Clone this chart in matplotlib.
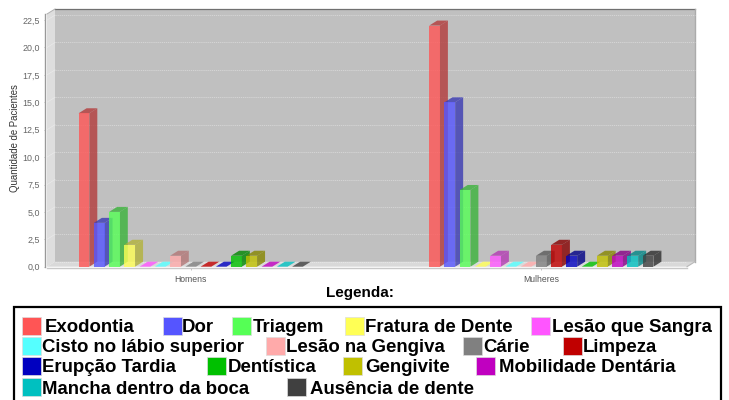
import matplotlib

matplotlib.use("Agg")
import matplotlib.pyplot as plt
from matplotlib.patches import Rectangle
from matplotlib.ticker import FuncFormatter

W, H = 729, 400

groups = ["Homens", "Mulheres"]
names = ["Exodontia", "Dor", "Triagem", "Fratura de Dente", "Lesão que Sangra",
         "Cisto no lábio superior", "Lesão na Gengiva", "Cárie", "Limpeza",
         "Erupção Tardia", "Dentística", "Gengivite", "Mobilidade Dentária",
         "Mancha dentro da boca", "Ausência de dente"]
colors = ["#FF5555", "#5555FF", "#55FF55", "#FFFF55", "#FF55FF",
          "#55FFFF", "#FFAAAA", "#808080", "#C00000",
          "#0000C0", "#00C000", "#C0C000", "#C000C0",
          "#00C0C0", "#404040"]
homens = [14, 4, 5, 2, 0, 0, 1, 0, 0, 0, 1, 1, 0, 0, 0]
mulheres = [22, 15, 7, 0, 1, 0, 0, 1, 2, 1, 0, 1, 1, 1, 1]
yticks = [0, 2.5, 5, 7.5, 10, 12.5, 15, 17.5, 20, 22.5]

# legend layout in pixels: swatch x, text x, row
legend_pos = [(22, 45, 0), (163, 182, 0), (232, 253, 0), (345, 365, 0), (531, 552, 0),
              (22, 42, 1), (266, 286, 1), (463, 483, 1), (563, 583, 1),
              (22, 42, 2), (207, 228, 2), (343, 365, 2), (476, 499, 2),
              (22, 42, 3), (287, 310, 3)]
row_top = [316.5, 337, 357, 378]

AX_L, AX_R, AX_T, AX_B = 47, 687, 14, 266.7
PX_X = 350.6   # pixels per group
PX_Y = 10.96   # pixels per patient
SLOT = 15.25 / PX_X
BAR_W = 10.7 / PX_X
DX = 8 / PX_X
DY = 5 / PX_Y


def darker(c):
    r, g, b = matplotlib.colors.to_rgb(c)
    return (r * 0.7, g * 0.7, b * 0.7)


plt.rcParams["font.family"] = ["Liberation Sans", "DejaVu Sans"]
fig = plt.figure(figsize=(W / 100, H / 100), dpi=100)
ax = fig.add_axes([AX_L / W, 1 - AX_B / H, (AX_R - AX_L) / W, (AX_B - AX_T) / H])
x0 = (AX_L - 190.7) / PX_X
x1 = (AX_R - 190.7) / PX_X
ymax = (AX_B - AX_T) / PX_Y
ax.set_xlim(x0, x1)
ax.set_ylim(0, ymax)
ax.patch.set_visible(False)

# walls and floor
ax.fill([x0 + DX, x1 + DX, x1 + DX, x0 + DX], [DY, DY, ymax + DY, ymax + DY],
        color="#C0C0C0", lw=0, clip_on=False, zorder=0)
ax.fill([x0, x0 + DX, x0 + DX, x0], [0, DY, ymax + DY, ymax],
        color="#DEDEDE", lw=0, clip_on=False, zorder=0)
ax.fill([x0, x1, x1 + DX, x0 + DX], [0, 0, DY, DY],
        color="#D9D9D9", lw=0, clip_on=False, zorder=0)
ax.plot([x0 + DX, x1 + DX], [ymax + DY, ymax + DY], color="#707070", lw=0.9, clip_on=False, zorder=1)
ax.plot([x0, x0 + DX], [ymax, ymax + DY], color="#B0B0B0", lw=0.7, clip_on=False, zorder=1)
ax.plot([x1 + DX, x1 + DX], [DY, ymax + DY], color="#ABABAB", lw=1, clip_on=False, zorder=1)
ax.plot([x1, x1 + DX], [0, DY], color="#B8B8B8", lw=0.8, clip_on=False, zorder=1)

for t in yticks:
    if t == 0:
        ax.plot([x0 + DX, x1 + DX], [DY, DY], color="#E8E8E8", lw=0.6, ls=(0, (1.5, 1)), zorder=1)
        continue
    ax.plot([x0 + DX, x1 + DX], [t + DY, t + DY], color="#D8D8D8", lw=0.6, ls=(0, (1.5, 1)),
            clip_on=False, zorder=1)
    ax.plot([x0, x0 + DX], [t, t + DY], color="#EAEAEA", lw=0.5, zorder=1)

# bars, left to right so each front covers the side of the previous one
z = 2
for g, values in enumerate([homens, mulheres]):
    for i, v in enumerate(values):
        left = g + (i - 7) * SLOT - BAR_W / 2
        right = left + BAR_W
        dark = darker(colors[i])
        ax.fill([right, right + DX, right + DX, right], [0, DY, v + DY, v],
                color=dark, alpha=0.8, lw=0, zorder=z, clip_on=False)
        ax.fill([left, right, right + DX, left + DX], [v, v, v + DY, v + DY],
                color=dark if v > 0 else colors[i], alpha=0.8, lw=0, zorder=z, clip_on=False)
        if v > 0:
            ax.bar(left, v, width=BAR_W, align="edge", color=colors[i], alpha=0.8, lw=0, zorder=z)
        z += 1

ax.set_xticks(range(len(groups)), groups)
ax.set_yticks(yticks)
ax.yaxis.set_major_formatter(FuncFormatter(lambda v, _: f"{v:.1f}".replace(".", ",")))
ax.tick_params(axis="x", length=1.5, width=0.5, color="#AAAAAA", labelsize=6.2,
               labelcolor="#555555", pad=3.5)
ax.tick_params(axis="y", length=1, width=0.5, color="#AAAAAA", labelsize=6.4,
               labelcolor="#666666", pad=2.5)
ax.set_ylabel("Quantidade de Pacientes", fontsize=6.9, color="#333333", labelpad=2, y=0.51)
for side in ("top", "right"):
    ax.spines[side].set_visible(False)
ax.spines["left"].set_position(("outward", 1.5))
ax.spines["left"].set_color("#999999")
ax.spines["left"].set_linewidth(1)
ax.spines["bottom"].set_position(("outward", 1))
ax.spines["bottom"].set_color("#C8C8C8")
ax.spines["bottom"].set_linewidth(1)

# legend, laid out by hand in figure pixels
fig.text(360 / W, 1 - 293.5 / H, "Legenda:", fontsize=11, fontweight="bold",
         ha="center", va="center", color="black")
fig.add_artist(Rectangle((13.5 / W, -0.01), 707 / W, 1 - 306.5 / H + 0.01, transform=fig.transFigure,
                         fill=False, ec="black", lw=1.6))
for name, c, (sx, tx, row) in zip(names, colors, legend_pos):
    top = row_top[row]
    fig.add_artist(Rectangle((sx / W, 1 - (top + 18) / H), 19 / W, 18 / H,
                             transform=fig.transFigure, fc=c, ec="#DDDDDD", lw=0.5))
    fig.text(tx / W, 1 - (top + 11) / H, name, fontsize=13.4, fontweight="bold",
             ha="left", va="center", color="black")

fig.savefig("out.png", dpi=100)
